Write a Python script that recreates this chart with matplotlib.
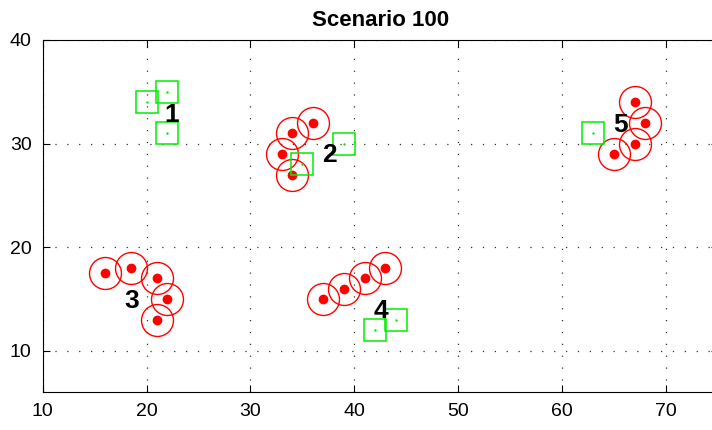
import numpy as np
import matplotlib
matplotlib.use("Agg")
import matplotlib.pyplot as plt

plt.rcParams['font.family'] = ['Liberation Sans', 'DejaVu Sans']

# estimated target positions (red circles)
red_x = [36, 34, 33, 34,
         67, 68, 67, 65,
         16, 18.5, 21, 22, 21,
         37, 39, 41, 43]
red_y = [32, 31, 29, 27,
         34, 32, 30, 29,
         17.5, 18, 17, 15, 13,
         15, 16, 17, 18]

# green squares
green_x = [22, 20, 22, 35, 39, 63, 42, 44]
green_y = [35, 34, 31, 28, 30, 31, 12, 13]

# cluster labels
label_text = ["1", "2", "3", "4", "5"]
label_x = [22.4, 37.6, 18.6, 42.6, 65.6]
label_y = [32.8, 28.9, 14.8, 13.8, 31.8]

fig = plt.figure(figsize=(7.12, 4.30), dpi=100)
ax = fig.add_axes([0.060, 0.088, 675 / 712, 0.819])

ax.plot(red_x, red_y, 'o', ms=23, mfc='none', mec='red', mew=1.0)
ax.plot(red_x, red_y, 'o', ms=6, mfc='red', mec='red')
ax.plot(green_x, green_y, 's', ms=15.5, mfc='none', mec='#00ee00', mew=1.1)
ax.plot(green_x, green_y, '.', ms=1.5, color='#00ee00')

for t, x, y in zip(label_text, label_x, label_y):
    ax.text(x, y, t, ha='center', va='center', fontsize=19, fontweight='bold')

ax.set_xlim(10, 75)
ax.set_ylim(6, 40)
ax.set_xticks([10, 20, 30, 40, 50, 60, 70])
ax.set_yticks([10, 20, 30, 40])
ax.grid(True, linestyle=(0, (1, 8.5)), color='#333333', linewidth=0.9)
ax.tick_params(direction='in', top=True, right=True, labelsize=14, length=5, pad=8)
ax.set_title("Scenario 100", fontsize=16, fontweight='bold', pad=10)

fig.savefig("out.png", dpi=100)
